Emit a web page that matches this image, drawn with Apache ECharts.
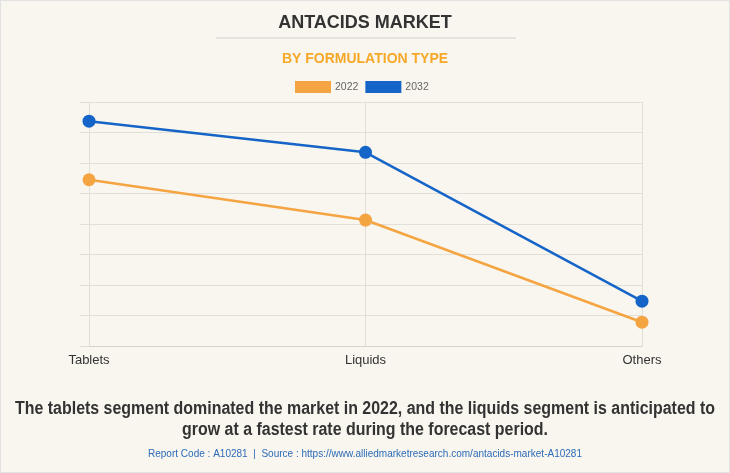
<!DOCTYPE html>
<html>
<head>
<meta charset="utf-8">
<script src="https://cdn.jsdelivr.net/npm/echarts@6/dist/echarts.min.js"></script>
<style>
html,body{margin:0;padding:0;background:#f9f6ef;}
#c{width:728px;height:471px;border:1px solid #e2e2e2;}
</style>
</head>
<body>
<div id="c"></div>
<script>
const categories = ['Tablets', 'Liquids', 'Others'];
const series2022 = [5.45, 4.13, 0.78];
const series2032 = [7.37, 6.35, 1.47];
const seriesNames = ['2022', '2032'];
const colors = ['#f5a442', '#1565c8'];
const footLine1 = 'The tablets segment dominated the market in 2022, and the liquids segment is anticipated to';
const footLine2 = 'grow at a fastest rate during the forecast period.';
const sourceText = 'Report Code : A10281  |  Source : https://www.alliedmarketresearch.com/antacids-market-A10281';

const ctx = document.createElement('canvas').getContext('2d');
function measure(font, s) { ctx.font = font; return ctx.measureText(s).width; }
const footFont = 'bold 18px "Liberation Sans", Arial, sans-serif';
const footScale = 700 / measure(footFont, footLine1);
const srcFont = '11px "Liberation Sans", Arial, sans-serif';
const srcScale = 434 / measure(srcFont, sourceText);

const chart = echarts.init(document.getElementById('c'));
chart.setOption({
  backgroundColor: '#f9f6ef',
  animation: false,
  textStyle: { fontFamily: 'Liberation Sans, Arial, sans-serif' },
  title: [
    { text: 'ANTACIDS MARKET', left: 'center', top: 8,
      textStyle: { fontSize: 18, fontWeight: 'bold', color: '#333' } },
    { text: 'BY FORMULATION TYPE', left: 'center', top: 46,
      textStyle: { fontSize: 14, fontWeight: 'bold', color: '#f6a828' } }
  ],
  graphic: [
    { type: 'line', shape: { x1: 215, y1: 37, x2: 515, y2: 37 }, style: { stroke: '#cfcfcf', lineWidth: 1 } },
    { type: 'text', x: 364, y: 408, scaleX: footScale,
      style: { text: footLine1, font: footFont, fill: '#333', align: 'center', verticalAlign: 'middle' } },
    { type: 'text', x: 364, y: 429, scaleX: footScale,
      style: { text: footLine2, font: footFont, fill: '#333', align: 'center', verticalAlign: 'middle' } },
    { type: 'text', x: 364, y: 453, scaleX: srcScale,
      style: { text: sourceText, font: srcFont, fill: '#2c6bb8', align: 'center', verticalAlign: 'middle' } }
  ],
  legend: {
    top: 75, left: 289, itemWidth: 36, itemHeight: 12, itemGap: 7,
    icon: 'rect',
    textStyle: { fontSize: 10.5, color: '#666', padding: [0, 0, 0, -1] },
    data: seriesNames
  },
  grid: { left: 88, right: 87, top: 101, bottom: 126, containLabel: false },
  xAxis: {
    type: 'category', data: categories, boundaryGap: false,
    axisLine: { show: true, lineStyle: { color: '#d6d3cc' } },
    axisTick: { show: false },
    axisLabel: { fontSize: 13, color: '#333', margin: 8 },
    splitLine: { show: true, lineStyle: { color: '#e2dfd8' } }
  },
  yAxis: {
    type: 'value', min: 0, max: 8, interval: 1,
    axisLine: { show: false },
    axisTick: { show: true, length: 9, lineStyle: { color: '#e2dfd8' } },
    axisLabel: { show: false },
    splitLine: { show: true, lineStyle: { color: '#e2dfd8' } }
  },
  series: [
    { name: seriesNames[0], type: 'line', data: series2022, symbol: 'circle', symbolSize: 13,
      itemStyle: { color: colors[0] }, lineStyle: { width: 2.5, color: colors[0] } },
    { name: seriesNames[1], type: 'line', data: series2032, symbol: 'circle', symbolSize: 13,
      itemStyle: { color: colors[1] }, lineStyle: { width: 2.5, color: colors[1] } }
  ]
});
</script>
</body>
</html>
